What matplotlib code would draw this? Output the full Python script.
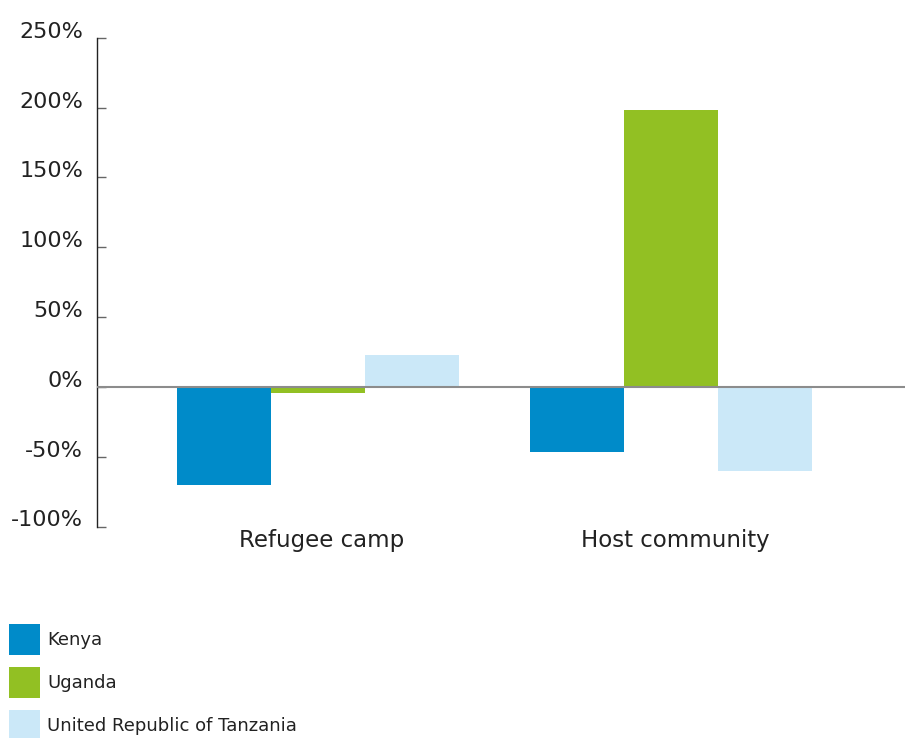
import matplotlib
matplotlib.use("Agg")
import matplotlib.pyplot as plt
from matplotlib.patches import Rectangle
from matplotlib.transforms import offset_copy
import numpy as np

plt.rcParams["font.family"] = ["DejaVu Sans"]

categories = ["Refugee camp", "Host community"]
countries = ["Kenya", "Uganda", "United Republic of Tanzania"]
kenya = [-70, -47]
uganda = [-4.5, 198.5]
tanzania = [22.5, -60.5]
colors = ["#008BC9", "#92C023", "#CBE8F8"]
yticks = [-100, -50, 0, 50, 100, 150, 200, 250]

fig = plt.figure(figsize=(9.05, 7.38), dpi=100)
ax = fig.add_axes([97/905, (738 - 526.5)/738, 1 - 97/905, (526.5 - 37.7)/738])

x = np.arange(len(categories))
w = 0.266
for i, (vals, c) in enumerate(zip([kenya, uganda, tanzania], colors)):
    ax.bar(x + (i - 1)*w, vals, w, color=c, zorder=2)
ax.axhline(0, color="#8c8c8c", lw=1.5, zorder=3)

ax.set_ylim(-100, 250)
ax.set_xlim(-0.626, 1.663)
ax.set_yticks(yticks)
ax.set_yticklabels([f"{t}%" for t in yticks], fontsize=16, color="#222222")
for lab in ax.get_yticklabels():
    lab.set_va("baseline")
ax.tick_params(axis="y", direction="in", length=6.5, width=1, color="#666666", pad=10)
ax.set_xticks(x)
ax.set_xticklabels(categories, fontsize=16.5, color="#222222")
ax.tick_params(axis="x", length=0, pad=2)
for lab in ax.get_xticklabels():
    lab.set_transform(offset_copy(lab.get_transform(), fig=fig, x=4, y=0, units="dots"))
for s in ["top", "right", "bottom"]:
    ax.spines[s].set_visible(False)
ax.spines["left"].set_linewidth(1)
ax.spines["left"].set_color("#222222")

# legend, bottom left
for i, (name, c) in enumerate(zip(countries, colors)):
    top = 624 + i*43
    fig.add_artist(Rectangle((9/905, 1 - (top + 31)/738), 31/905, 31/738,
                             transform=fig.transFigure, color=c, lw=0))
    fig.text(47/905, 1 - (top + 16)/738, name, fontsize=13, va="center",
             ha="left", color="#222222")

fig.savefig("out.png", dpi=100)
